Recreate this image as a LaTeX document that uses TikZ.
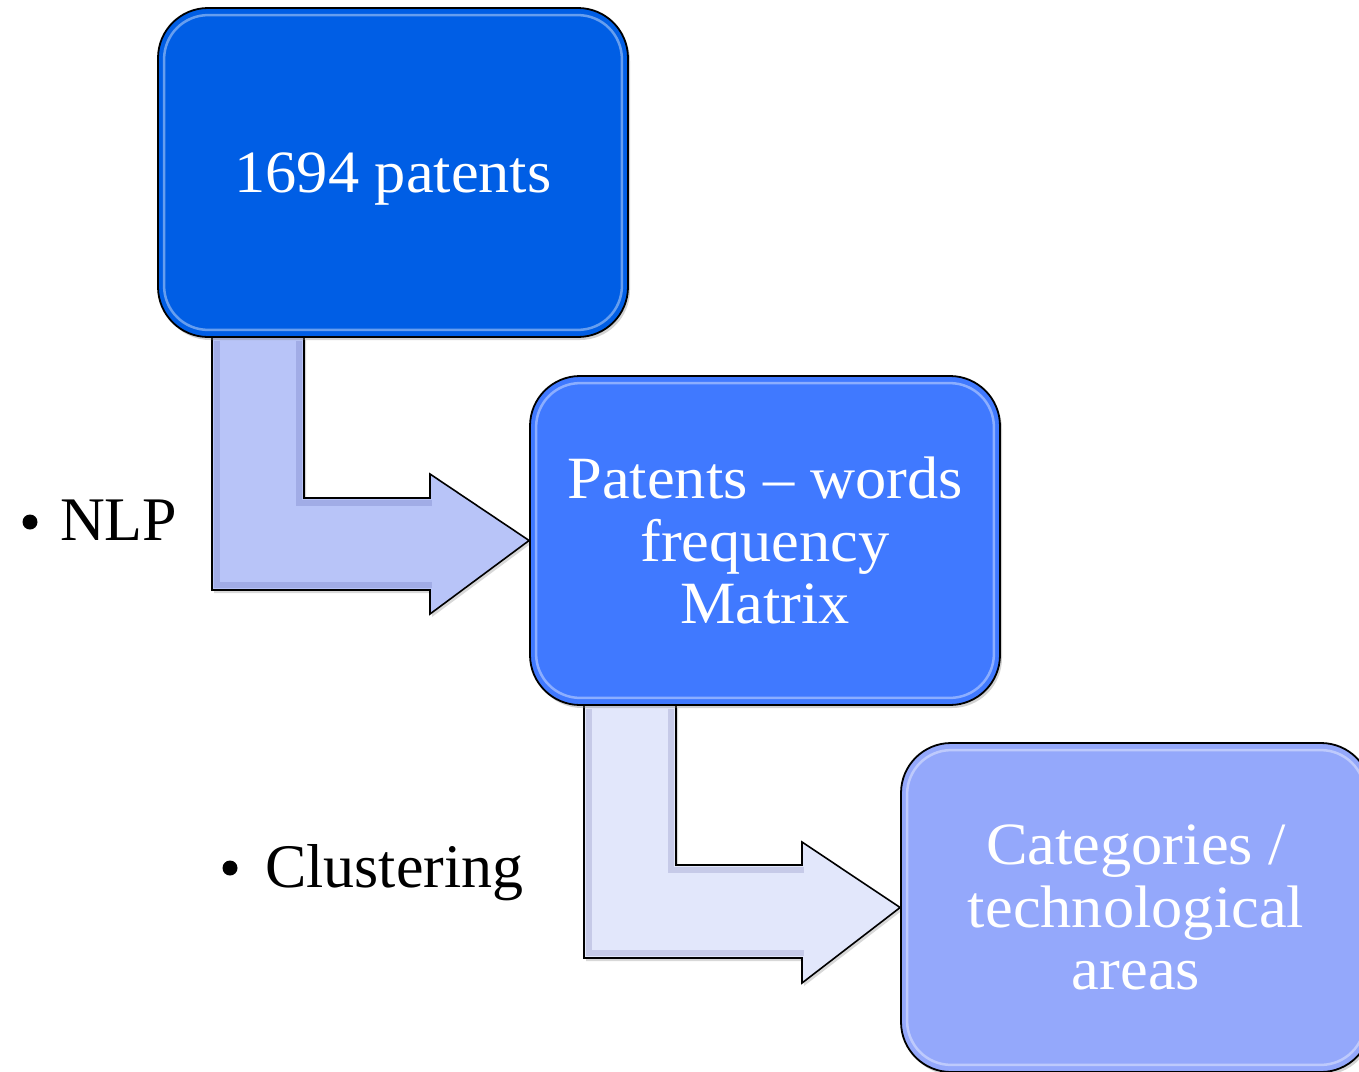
\documentclass[tikz,border=0pt]{standalone}
\usepackage{fontspec}
\setmainfont{Liberation Serif}
\newfontfamily\boxfont[FakeStretch=1.04, Ligatures=TeX]{Liberation Serif}
\usetikzlibrary{backgrounds,shadows}

\definecolor{boxA}{RGB}{0,94,229}
\definecolor{boxB}{RGB}{64,121,255}
\definecolor{boxC}{RGB}{148,168,251}
\definecolor{arrA}{RGB}{184,196,248}
\definecolor{arrB}{RGB}{226,231,251}

\tikzset{
  stage/.style={draw=black, line width=1.8pt, rounded corners=50pt,
    minimum width=470pt, minimum height=329pt, inner sep=0pt,
    text=white, align=center,
    font=\boxfont\fontsize{60}{62.5}\selectfont,
    drop shadow={opacity=0.35, shadow xshift=2pt, shadow yshift=-3pt}},
  gloss/.style={draw=white, draw opacity=0.4, line width=2.5pt, rounded corners=44pt},
  bentarrow/.style={draw=black, line width=1.6pt, line join=miter},
  bevel/.style={line width=6pt, draw opacity=0.12, line join=miter},
  step label/.style={font=\fontsize{62}{66}\selectfont, anchor=base west, inner sep=0pt},
  dot/.style={circle, fill=black, minimum size=15pt, inner sep=0pt}
}

\begin{document}
\begin{tikzpicture}[x=1pt, y=-1pt]
\useasboundingbox (0,0) rectangle (1359,1071);

% three stage boxes
\node[stage, fill=boxA, text depth=0pt] (patents) at (393,172.5) {1694 patents};
\node[stage, fill=boxB] (matrix) at (765,540.5) {Patents – words\\frequency\\Matrix};
\node[stage, fill=boxC] (areas) at (1136,907.5) {Categories /\\technological\\areas};

% glossy inner rims
\foreach \b in {patents, matrix, areas}{
  \draw[gloss] ([shift={(7,8)}]\b.north west) rectangle ([shift={(-7,-8)}]\b.south east);
}

% method labels
\node[dot] (dotA) at (30,522) {};
\node[step label] (nlp) at (60,540) {NLP};
\node[dot] (dotB) at (230,868) {};
\node[step label] (clust) at (265,887) {Clustering};

\begin{scope}[on background layer]
  \fill[white] (0,0) rectangle (1359,1071);
  % bent arrow: first stage to second
  \draw[bentarrow, fill=arrA, drop shadow={opacity=0.3, shadow xshift=2pt, shadow yshift=-3pt}]
    (212,337) -- (304,337) -- (304,498) -- (430,498) -- (430,474)
    -- (matrix.west) -- (430,614) -- (430,590) -- (212,590) -- cycle;
  \draw[bevel, draw=black!60!blue] (217,341) -- (217,585) -- (432,585);
  \draw[bevel, draw=black!60!blue] (299,341) -- (299,503) -- (432,503);
  % bent arrow: second stage to third
  \draw[bentarrow, fill=arrB, drop shadow={opacity=0.3, shadow xshift=2pt, shadow yshift=-3pt}]
    (584,705) -- (676,705) -- (676,865) -- (802,865) -- (802,842)
    -- (areas.west) -- (802,983) -- (802,958) -- (584,958) -- cycle;
  \draw[bevel, draw=black!60!blue] (589,709) -- (589,953) -- (804,953);
  \draw[bevel, draw=black!60!blue] (671,709) -- (671,870) -- (804,870);
\end{scope}
\end{tikzpicture}
\end{document}
